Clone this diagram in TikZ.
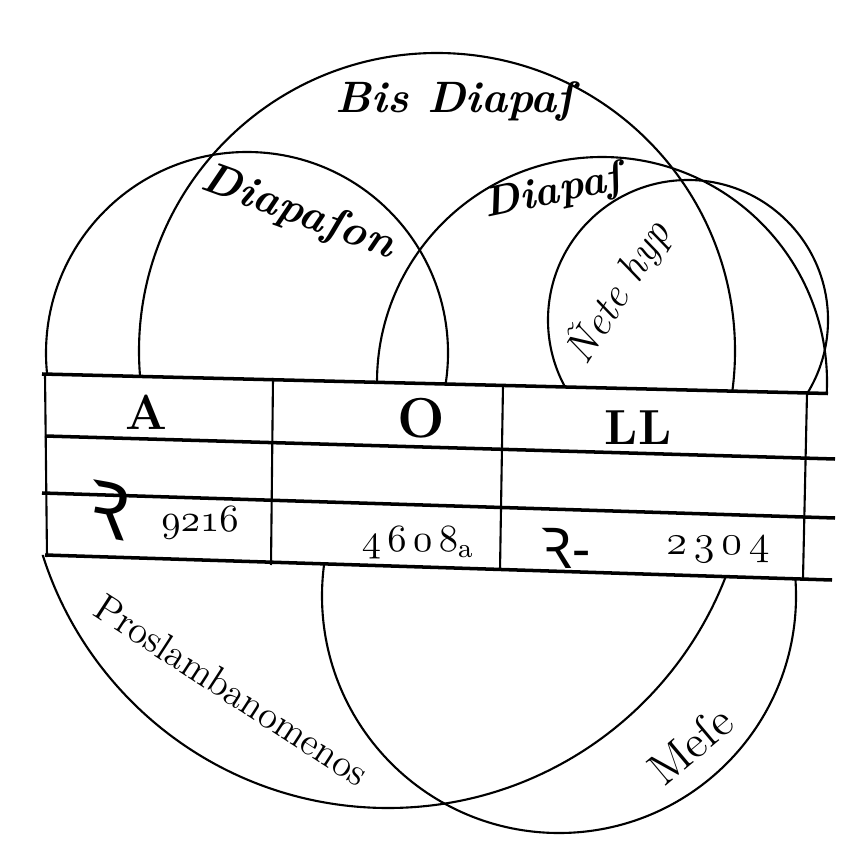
\documentclass[tikz,border=0pt]{standalone}
\usepackage{fontspec}
\newfontfamily\signfont{Noto Sans}
\newcommand{\oldnum}[1]{{\usefont{OML}{cmm}{m}{it}#1}}

\begin{document}
\begin{tikzpicture}[x=0.01cm,y=-0.01cm]
\tikzstyle{every node}+=[inner sep=0pt]
\tikzstyle{ring}=[black, line width=0.6pt]
\tikzstyle{rule}=[black, line width=1pt]
\tikzstyle{bar}=[black, line width=0.6pt]
\tikzstyle{gothic}=[font=\bfseries\itshape]
\useasboundingbox (0,0) rectangle (863,864);
\begin{scope}
\clip (0,0) -- (863,0) -- (863,394.4) -- (0,373) -- cycle;
\draw [ring] (247,353) circle (201);
\draw [ring] (437,351) circle (298);
\draw [ring] (602,382) circle (225);
\draw [ring] (688,320) circle (140);
\end{scope}
\begin{scope}
\clip (0,553.6) -- (863,579.7) -- (863,864) -- (0,864) -- cycle;
\draw [ring] (388,446) circle (362);
\draw [ring] (559,596) circle (237);
\end{scope}
\draw [rule] (42,374) -- (828,393.5);
\draw [rule] (45,436) -- (835,459);
\draw [rule] (42,493) -- (835,518);
\draw [rule] (45,555) -- (832,580);
\draw [bar] (45,374) -- (47,557);
\draw [bar] (273,378) -- (271,565);
\draw [bar] (503,385) -- (500,570);
\draw [bar] (807,393) -- (803,578);
\node (bis) [gothic] at (455,102) {\fontsize{12.5}{12.5}\selectfont Bis Diapaſ};
\node (diapason) [gothic,rotate=-20] at (298,213) {\fontsize{12.5}{12.5}\selectfont Diapaſon};
\node (diapas) [gothic,rotate=12] at (553,193) {\fontsize{12}{12}\selectfont Diapaſ};
\node (nete) [rotate=58] at (618,292) {\itshape\fontsize{12}{12}\selectfont Ñete hyp};
\node (pros) [rotate=-33] at (232,690) {\fontsize{11}{11}\selectfont Proslambanomenos};
\node (mese) [rotate=40] at (690,745) {\fontsize{13}{13}\selectfont Meſe};
\node (colA) at (146,412) {\fontsize{14}{14}\selectfont\bfseries A};
\node (colO) at (421,418) {\fontsize{16}{16}\selectfont\bfseries O};
\node (colLL) at (638,428) {\fontsize{14}{14}\selectfont\bfseries LL};
\node (signA) [rotate=-10] at (108,510) {\signfont\fontsize{22}{22}\selectfont Ꝛ};
\node (numA) at (200,523) {\fontsize{11}{11}\selectfont\oldnum{9216}};
\node (numO) at (418,543) {\fontsize{11}{11}\selectfont\oldnum{4\,6\,0\,8}$_{\mathrm{a}}$};
\node (signLL) at (565,548) {\signfont\fontsize{16}{16}\selectfont Ꝛ-};
\node (numLL) at (718,550) {\fontsize{13}{13}\selectfont\oldnum{2\,3\,0\,4}};
\end{tikzpicture}
\end{document}
